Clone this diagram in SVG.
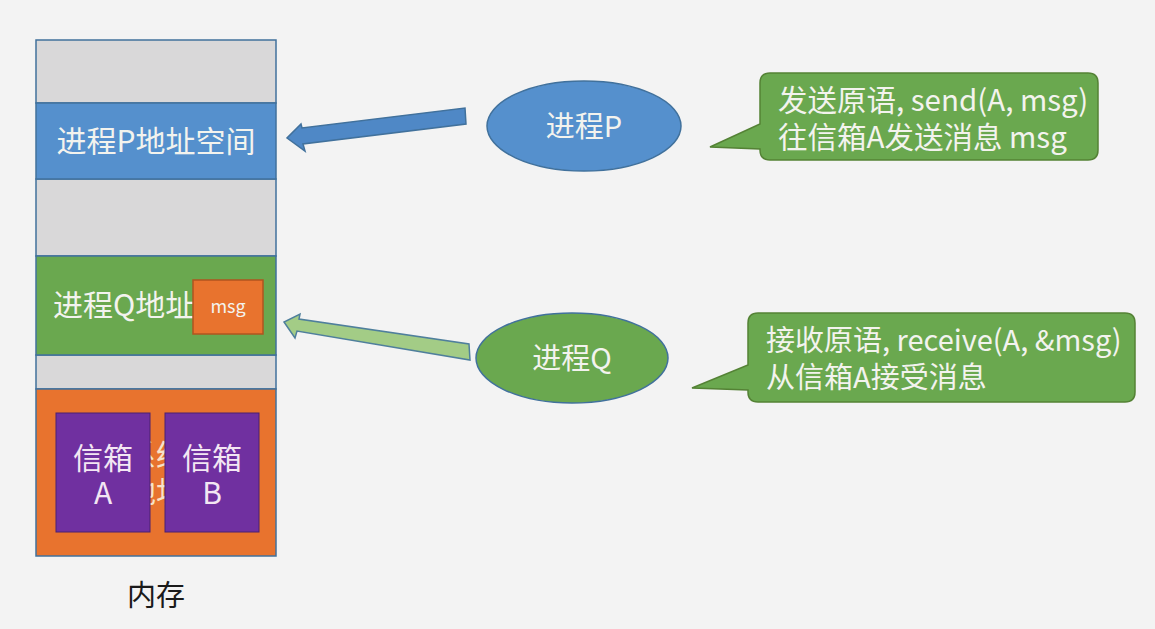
<svg xmlns="http://www.w3.org/2000/svg" width="1155" height="629" viewBox="0 0 1155 629">
<style>
.t{font-family:"Noto Sans CJK SC","Noto Sans",sans-serif;font-size:30px;fill:#f3f3ee}
.c{text-anchor:middle}
.gray{fill:#d9d8d9;stroke:#41719c;stroke-width:1.5}
.bub{fill:#6aa84f;stroke:#548235;stroke-width:1.5}
</style>
<defs>
<clipPath id="gap"><rect x="150" y="413" width="15" height="119"/></clipPath>
</defs>
<rect width="1155" height="629" fill="#f3f3f3"/>
<g id="memory">
<rect class="gray" x="36" y="40" width="240" height="63"/>
<rect class="gray" x="36" y="179" width="240" height="77"/>
<rect class="gray" x="36" y="355" width="240" height="34"/>
</g>
<g id="p-space">
<rect x="36" y="103" width="240" height="76" fill="#5590cd" stroke="#41719c" stroke-width="1.5"/>
<text class="t c" x="156" y="152">进程P地址空间</text>
</g>
<g id="q-space">
<rect x="36" y="256" width="240" height="99" fill="#6aa84f" stroke="#41719c" stroke-width="1.5"/>
<text class="t" x="53" y="316">进程Q地址</text>
</g>
<g id="msg">
<rect x="193" y="280" width="70" height="54" fill="#e8732e" stroke="#b0541f" stroke-width="1.5"/>
<text class="t c" x="228" y="313" style="font-size:18px">msg</text>
</g>
<g id="kernel">
<rect x="36" y="389" width="240" height="167" fill="#e8732e" stroke="#41719c" stroke-width="1.5"/>
<g clip-path="url(#gap)">
<text class="t c" x="156" y="466" style="fill:#f7e3c8">系统</text>
<text class="t c" x="156" y="503" style="fill:#f7e3c8">地址</text>
</g>
</g>
<g id="box-a">
<rect x="56" y="413" width="94" height="119" fill="#7030a0" stroke="#4a2070" stroke-width="1"/>
<text class="t c" x="103" y="469" style="fill:#f3e6f3">信箱</text>
<text class="t c" x="103" y="504" style="fill:#f3e6f3">A</text>
</g>
<g id="box-b">
<rect x="165" y="413" width="94" height="119" fill="#7030a0" stroke="#4a2070" stroke-width="1"/>
<text class="t c" x="212" y="469" style="fill:#f3e6f3">信箱</text>
<text class="t c" x="212" y="504" style="fill:#f3e6f3">B</text>
</g>
<g id="mem-label">
<text class="t c" x="156" y="606" style="fill:#1a1a1a;font-size:29px">内存</text>
</g>
<g id="connectors">
<polygon points="465,108 466,124 303,144 305,151 287,138 301,124 302,128" fill="#4f88c6" stroke="#41719c" stroke-width="1.5"/>
<polygon points="469,344 470,360 297,331 295,338 284,322 300,314 299,319" fill="#a3cc86" stroke="#4f7f9c" stroke-width="1.5"/>
</g>
<g id="proc-p">
<ellipse cx="584" cy="126" rx="97" ry="45" fill="#5590cd" stroke="#41719c" stroke-width="1.5"/>
<text class="t c" x="584" y="137" style="font-size:29px">进程P</text>
</g>
<g id="proc-q">
<ellipse cx="572" cy="358" rx="96" ry="45" fill="#6aa84f" stroke="#41719c" stroke-width="1.5"/>
<text class="t c" x="572" y="369" style="font-size:29px">进程Q</text>
</g>
<g id="callout-send">
<path class="bub" d="M770,73 H1088 Q1098,73 1098,83 V150 Q1098,160 1088,160 H770 Q760,160 760,150 V149 L710,147 L760,124 V83 Q760,73 770,73 Z"/>
<text class="t" x="778" y="111" style="font-size:29.5px">发送原语, send(A, msg)</text>
<text class="t" x="778" y="148" style="font-size:29.5px">往信箱A发送消息 msg</text>
</g>
<g id="callout-recv">
<path class="bub" d="M758,313 H1125 Q1135,313 1135,323 V392 Q1135,402 1125,402 H758 Q748,402 748,392 V390 L692,388 L748,365 V323 Q748,313 758,313 Z"/>
<text class="t" x="766" y="351" style="font-size:29px">接收原语, receive(A, &amp;msg)</text>
<text class="t" x="766" y="388" style="font-size:29px">从信箱A接受消息</text>
</g>
</svg>
